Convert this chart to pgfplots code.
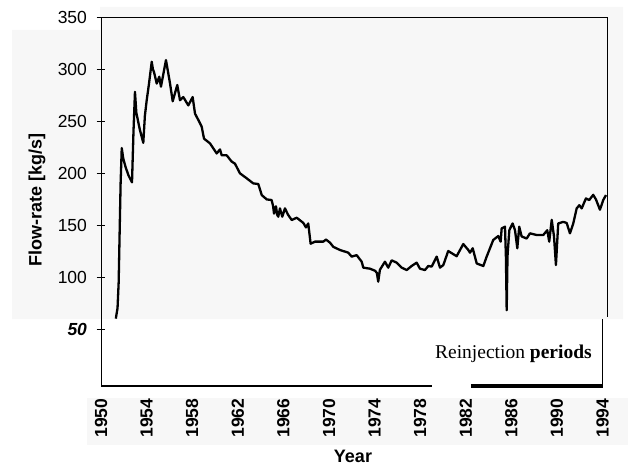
\documentclass[border=0pt]{standalone}
\usepackage{fontspec}
\setmainfont{Liberation Sans}
\newfontfamily\timesfont{Liberation Serif}
\usepackage{pgfplots}
\pgfplotsset{compat=1.18}
\definecolor{bggray}{HTML}{F7F7F7}
\pgfplotstableread{
year flow
1951.30 60
1951.36 64
1951.45 70
1951.55 95
1951.63 140
1951.72 190
1951.82 224
1951.95 214
1952.15 206
1952.40 198
1952.72 191
1952.85 240
1952.98 278
1953.10 258
1953.40 242
1953.71 229
1953.85 255
1954.01 270
1954.20 285
1954.45 307
1954.55 300
1954.65 297
1954.89 286
1955.11 292.6
1955.26 283
1955.70 308.6
1956.05 286.5
1956.29 269
1956.69 284.6
1956.93 270
1957.22 273
1957.66 265
1958.04 273
1958.25 257
1958.54 251
1958.83 244.6
1959.04 233
1959.56 228.5
1960.15 218.8
1960.44 222.7
1960.59 217
1961.03 217
1961.46 211
1961.75 209
1962.19 199.7
1962.78 194.9
1963.36 190
1963.80 189.4
1964.10 178.8
1964.54 174.6
1964.97 174
1965.10 168
1965.18 161
1965.35 168
1965.45 160
1965.55 158
1965.70 166
1965.90 158
1966.14 166
1966.40 160
1966.73 154.8
1967.17 157
1967.75 152
1967.98 147.7
1968.18 151.5
1968.39 132
1968.77 134
1969.50 134
1969.74 136
1970.09 133
1970.38 129
1970.96 126
1971.69 123.4
1971.99 119.6
1972.43 121
1972.87 114.7
1973.01 109
1973.60 108
1974.04 106
1974.20 104
1974.32 95.5
1974.47 107
1974.91 114.7
1975.20 109
1975.50 116
1975.94 113.8
1976.38 109
1976.82 106.7
1977.25 110.6
1977.69 113.8
1977.98 108
1978.42 106.7
1978.71 110.6
1979.01 110
1979.45 119.6
1979.74 109
1980.03 111.5
1980.46 125
1980.90 122
1981.20 120
1981.78 131.7
1982.22 126
1982.37 123.4
1982.61 127.6
1982.96 113
1983.54 110.6
1983.83 119.5
1984.41 135.6
1984.85 139.4
1985.06 134
1985.15 146.8
1985.44 148.4
1985.52 120
1985.59 68
1985.66 120
1985.82 145
1986.11 151.5
1986.32 145
1986.52 127.6
1986.69 148.4
1986.90 139
1987.34 137
1987.63 142
1988.22 140.4
1988.80 140.4
1989.15 145
1989.32 134
1989.54 155
1989.74 139
1989.91 111.5
1990.11 151.5
1990.55 153
1990.85 152
1991.14 142
1991.43 151.5
1991.73 166
1991.96 169
1992.17 166
1992.54 175.5
1992.83 174
1993.18 179
1993.42 174.6
1993.77 164.7
1994.06 174
1994.30 178.8
}\flowtable
\begin{document}
\begin{tikzpicture}
\path[use as bounding box] (0pt,0pt) rectangle (634pt,467pt);
\fill[bggray] (100pt,460pt) -- (623pt,460pt) -- (623pt,148pt) -- (12pt,148pt) -- (12pt,437pt) -- (100pt,437pt) -- cycle;
\fill[bggray] (87pt,22pt) rectangle (628pt,69pt);
\begin{axis}[
  at={(101pt,81pt)}, anchor=south west,
  scale only axis, width=506pt, height=369pt,
  xmin=1950, xmax=1994.39, ymin=-4.8, ymax=350,
  clip=false,
  axis y line*=left, axis x line*=bottom,
  x axis line style={draw=none},
  y axis line style={line width=0.9pt, black},
  xtick={1950,1954,...,1994},
  xticklabels={1950,1954,1958,1962,1966,1970,1974,1978,1982,1986,1990,1994},
  ytick={50,100,...,350},
  yticklabels={\raisebox{-5pt}{\textbf{\textit{50}}},100,150,200,250,300,350},
  xtick style={draw=none},
  ytick style={line width=0.8pt, black},
  major tick length=9pt, tick align=center,
  xticklabel style={rotate=90, anchor=east, font=\bfseries\fontsize{17.5}{18}\selectfont, inner xsep=8pt},
  yticklabel style={font=\fontsize{17.5}{18}\selectfont, xshift=-6pt},
  xlabel={Year}, ylabel={Flow-rate [kg/s]},
  xlabel style={at={(rel axis cs:0.498,-0.190)}, anchor=center, font=\bfseries\fontsize{18}{20}\selectfont},
  ylabel style={at={(rel axis cs:-0.1265,0.504)}, anchor=center, font=\bfseries\fontsize{18}{20}\selectfont},
]
\addplot[black, line width=2.3pt, line join=round] table[x=year, y=flow] {\flowtable};
\draw[line width=0.9pt] (axis cs:1950,350) -- (axis cs:1994.39,350) -- (axis cs:1994.39,61.5);
\draw[line width=1.6pt] (axis cs:1950,-4.8) -- (axis cs:1979,-4.8);
\draw[line width=4pt] (axis cs:1982.45,-4.8) -- (axis cs:1994,-4.8);
\draw[line width=1pt] (axis cs:1994,-4.8) -- (axis cs:1994,59.6);
\node[font=\timesfont\fontsize{19.5}{22}\selectfont] at (axis cs:1986.18,26.5) {Reinjection \textbf{periods}};
\end{axis}
\end{tikzpicture}
\end{document}
